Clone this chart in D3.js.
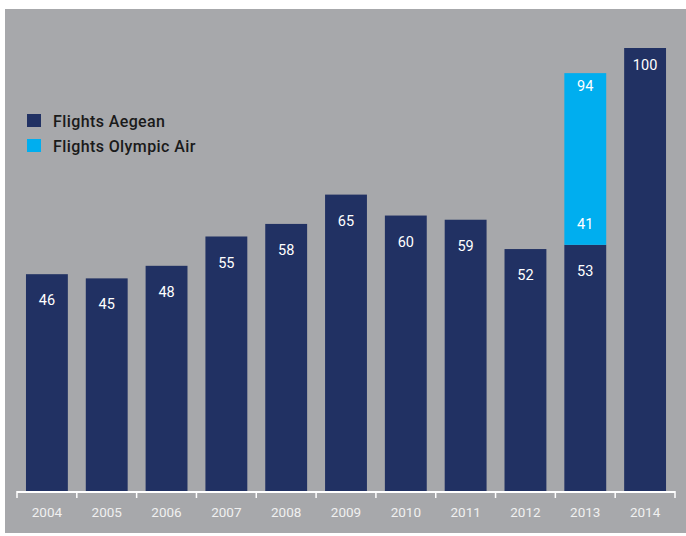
<!DOCTYPE html>
<html>
<head>
<meta charset="utf-8">
<script src="https://cdn.jsdelivr.net/npm/d3@7"></script>
<style>
  html, body { margin: 0; padding: 0; background: #ffffff; }
  svg { display: block; font-family: Roboto, "Liberation Sans", Arial, sans-serif; }
</style>
</head>
<body>
<svg id="chart" width="686" height="536"></svg>
<script>
// ---- data ----
const years = ["2004","2005","2006","2007","2008","2009","2010","2011","2012","2013","2014"];
const aegean = [46, 45, 48, 55, 58, 65, 60, 59, 52, 53, 100];
const olympic = [0, 0, 0, 0, 0, 0, 0, 0, 0, 41, 0];
const totals = [null, null, null, null, null, null, null, null, null, 94, null];
const seriesNames = ["Flights Aegean", "Flights Olympic Air"];

// ---- style ----
const navy = "#213163";
const sky = "#00aeef";
const bg = "#a7a8ab";

const svg = d3.select("#chart");
svg.append("rect").attr("x", 5).attr("y", 9).attr("width", 681).attr("height", 524).attr("fill", bg);

const x = d3.scaleBand().domain(years).range([17, 675]).paddingInner(0.3).paddingOuter(0.15);
const y = d3.scaleLinear().domain([-6, 100]).range([492, 48]);

const rows = years.map((yr, i) => ({ yr, a: aegean[i], o: olympic[i], t: totals[i] }));

// Aegean bars
svg.selectAll("rect.aeg").data(rows).join("rect").attr("class", "aeg")
  .attr("x", d => x(d.yr)).attr("width", x.bandwidth())
  .attr("y", d => y(d.a)).attr("height", d => y(-6) - y(d.a))
  .attr("fill", navy);

// Olympic stacked bars
svg.selectAll("rect.oly").data(rows.filter(d => d.o > 0)).join("rect").attr("class", "oly")
  .attr("x", d => x(d.yr)).attr("width", x.bandwidth())
  .attr("y", d => y(d.a + d.o)).attr("height", d => y(d.a) - y(d.a + d.o))
  .attr("fill", sky);

// value labels
const lab = svg.append("g").attr("fill", "#ffffff").attr("font-size", 14.5).attr("text-anchor", "middle");
rows.forEach(d => {
  const cx = x(d.yr) + x.bandwidth() / 2;
  const off = d.a === 100 ? 17 : 26;
  lab.append("text").attr("x", cx).attr("y", y(d.a) + off).attr("dy", "0.35em").text(d.a);
  if (d.o > 0) {
    lab.append("text").attr("x", cx).attr("y", y(d.a) - 21).attr("dy", "0.35em").text(d.o);
    lab.append("text").attr("x", cx).attr("y", y(d.a + d.o) + 13).attr("dy", "0.35em").text(d.t);
  }
});

// axis
const axisG = svg.append("g");
axisG.append("line").attr("x1", 17).attr("x2", 675).attr("y1", 492).attr("y2", 492)
  .attr("stroke", "#ffffff").attr("stroke-width", 2);
const bounds = years.map(yr => x(yr) - x.step() * x.paddingInner() / 2);
bounds.push(675);
bounds[0] = 17;
axisG.selectAll("line.tick").data(bounds).join("line").attr("class", "tick")
  .attr("x1", d => d).attr("x2", d => d).attr("y1", 491).attr("y2", 498)
  .attr("stroke", "#ffffff").attr("stroke-width", 1.5);
axisG.selectAll("text").data(years).join("text")
  .attr("x", d => x(d) + x.bandwidth() / 2).attr("y", 512).attr("dy", "0.35em")
  .attr("text-anchor", "middle").attr("font-size", 13.5).attr("fill", "#f0f0f0")
  .text(d => d);

// legend
const legend = svg.append("g");
[navy, sky].forEach((c, i) => {
  legend.append("rect").attr("x", 27).attr("y", 114 + i * 25).attr("width", 14).attr("height", 13).attr("fill", c);
  legend.append("text").attr("x", 53).attr("y", 121 + i * 25).attr("dy", "0.35em")
    .attr("font-size", 16).attr("font-weight", 500).attr("letter-spacing", 0.4)
    .attr("fill", "#1a1a1a").text(seriesNames[i]);
});
</script>
</body>
</html>
